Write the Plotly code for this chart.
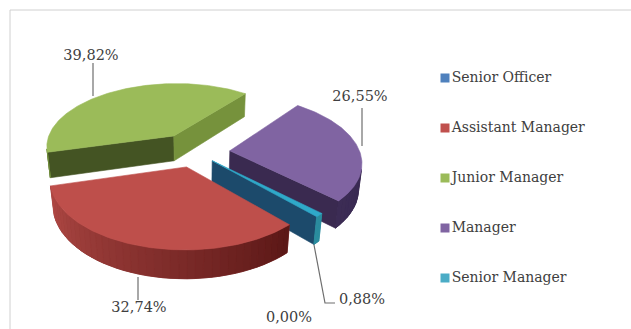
import math
import plotly.graph_objects as go

# Share of respondents by job level
categories = ["Senior Officer", "Assistant Manager", "Junior Manager", "Manager", "Senior Manager"]
shares = [0.00, 32.74, 39.82, 26.55, 0.88]
legend_colors = ["#4F81BD", "#C0504D", "#9BBB59", "#8064A2", "#4BACC6"]

# Colours of each slice's faces and how far it is pulled out of the pie
top_colors = ["#4F81BD", "#BE4F4B", "#9BBB59", "#8064A2", "#2FA9C9"]
wall_from = ["#2C4D75", "#5A1716", "#6F8A3A", "#33254A", "#2A8C9E"]
wall_to = ["#2C4D75", "#B24A46", "#6F8A3A", "#3C2C55", "#2A8C9E"]
start_face = ["#1F3F60", "#7A2A28", "#445423", "#33254A", "#1C4A6B"]
end_face = ["#1F3F60", "#7A2A28", "#76923C", "#3A2A50", "#1C4A6B"]
explode = [30, 30, 40, 35, 24]
draw_order = [2, 3, 4, 0, 1]

# Viewing set-up of the pie, in pixels
CX, CY = 195, 152
RADIUS, THICKNESS = 130, 30
TILT = math.radians(30)
VIEW_DIST = 728
FIRST_ANGLE = 137

WIDTH, HEIGHT = 631, 329


def project(x, y, z):
    w = y * math.cos(TILT) + z * math.sin(TILT)
    v = y * math.sin(TILT) - z * math.cos(TILT)
    s = VIEW_DIST / (VIEW_DIST - w)
    return CX + s * x, CY + s * v


def rim(theta, ox, oy, z):
    a = math.radians(theta)
    return project(ox + RADIUS * math.sin(a), oy - RADIUS * math.cos(a), z)


def blend(c1, c2, t):
    p = [int(c1[i:i + 2], 16) for i in (1, 3, 5)]
    q = [int(c2[i:i + 2], 16) for i in (1, 3, 5)]
    return "rgb({},{},{})".format(*[round(a + (b - a) * t) for a, b in zip(p, q)])


def facing(points):
    area = 0
    for (x0, y0), (x1, y1) in zip(points, points[1:] + points[:1]):
        area += x0 * y1 - x1 * y0
    return area < 0


def polygon(points, color, width=0.6):
    xs = [p[0] for p in points] + [points[0][0]]
    ys = [p[1] for p in points] + [points[0][1]]
    return go.Scatter(x=xs, y=ys, mode="lines", fill="toself", fillcolor=color,
                      line=dict(color=color, width=width), hoverinfo="skip", showlegend=False)


fig = go.Figure()

# Turn the shares into angular spans, clockwise from the first slice
total = sum(shares)
spans = []
angle = FIRST_ANGLE
for share in shares:
    sweep = share / total * 360
    spans.append((angle, angle + sweep))
    angle += sweep

leader_anchor = None
for i in draw_order:
    a0, a1 = spans[i]
    if a1 - a0 <= 0:
        continue
    mid = math.radians((a0 + a1) / 2)
    ox, oy = explode[i] * math.sin(mid), -explode[i] * math.cos(mid)
    tip_top = project(ox, oy, 0)
    tip_bot = project(ox, oy, -THICKNESS)
    if i == 4:
        leader_anchor = rim(a1, ox, oy, -THICKNESS)

    # cut faces
    face = [tip_top, rim(a0, ox, oy, 0), rim(a0, ox, oy, -THICKNESS), tip_bot]
    if facing(face):
        fig.add_trace(polygon(face, start_face[i]))
    face = [tip_top, tip_bot, rim(a1, ox, oy, -THICKNESS), rim(a1, ox, oy, 0)]
    if facing(face):
        fig.add_trace(polygon(face, end_face[i]))

    # curved outer wall: a solid band, then narrow shaded strips over it
    steps = max(2, int((a1 - a0) / 3))
    edges = [a0 + (a1 - a0) * k / steps for k in range(steps + 1)]
    strips = []
    for k in range(steps):
        quad = [rim(edges[k], ox, oy, 0), rim(edges[k + 1], ox, oy, 0),
                rim(edges[k + 1], ox, oy, -THICKNESS), rim(edges[k], ox, oy, -THICKNESS)]
        if facing(quad):
            strips.append((k, quad))
    if strips:
        upper = [q[0] for _, q in strips] + [strips[-1][1][1]]
        lower = [strips[-1][1][2]] + [q[3] for _, q in reversed(strips)]
        fig.add_trace(polygon(upper + lower, blend(wall_from[i], wall_to[i], 0.5), 0.8))
        for k, quad in strips:
            fig.add_trace(polygon(quad, blend(wall_from[i], wall_to[i], (k + 0.5) / steps), 0.5))

    # top face
    n = max(2, int(a1 - a0))
    arc = [rim(a0 + (a1 - a0) * k / n, ox, oy, 0) for k in range(n + 1)]
    fig.add_trace(polygon([tip_top] + arc, top_colors[i]))

# Leader lines from the value labels to their slices
leaders = [
    ([93, 93], [63, 96]),
    ([362, 362], [108, 146]),
    ([138, 138], [277, 300]),
    ([leader_anchor[0], 325, 335], [leader_anchor[1], 303, 303]),
]
for lx, ly in leaders:
    fig.add_trace(go.Scatter(x=lx, y=ly, mode="lines", line=dict(color="#6E6E6E", width=1.2),
                             hoverinfo="skip", showlegend=False))

# Value labels
FONT = "DejaVu Serif"
label_pos = {1: (139, 308), 2: (91, 56), 3: (360, 97), 4: (362, 300), 0: (289, 318)}
for i, (lx, ly) in label_pos.items():
    fig.add_trace(go.Scatter(x=[lx], y=[ly], mode="text",
                             text=[f"{shares[i]:.2f}%".replace(".", ",")],
                             textposition="middle center",
                             textfont=dict(family=FONT, size=14.5, color="#404040"),
                             hoverinfo="skip", showlegend=False))

# Legend column
legend_x, legend_y, legend_step = 445, 78, 50
fig.add_trace(go.Scatter(
    x=[legend_x] * len(categories),
    y=[legend_y + legend_step * k for k in range(len(categories))],
    mode="markers+text",
    marker=dict(symbol="square", size=9, color=legend_colors),
    text=categories,
    textposition="middle right",
    textfont=dict(family=FONT, size=14, color="#404040"),
    hoverinfo="skip", showlegend=False))

fig.update_layout(
    width=WIDTH, height=HEIGHT,
    margin=dict(l=0, r=0, t=0, b=0),
    paper_bgcolor="white", plot_bgcolor="white",
    xaxis=dict(range=[0, WIDTH], visible=False, fixedrange=True),
    yaxis=dict(range=[HEIGHT, 0], visible=False, fixedrange=True),
    shapes=[dict(type="rect", x0=10, y0=10, x1=WIDTH + 5, y1=HEIGHT + 5,
                 line=dict(color="#D0D0D0", width=1), layer="below")],
)

fig.write_html("out.html")
